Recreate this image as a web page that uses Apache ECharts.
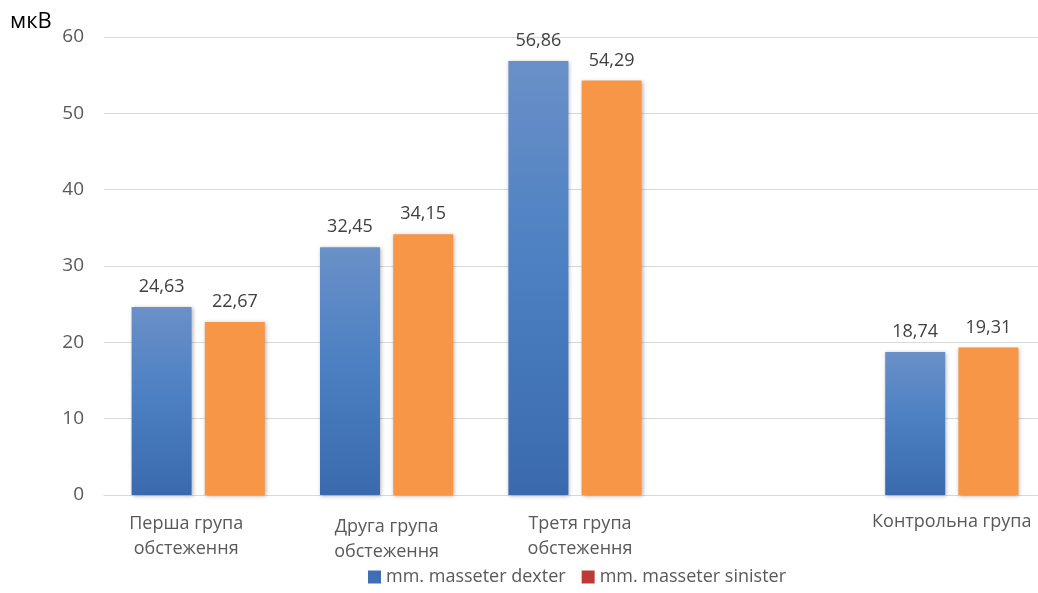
<!DOCTYPE html>
<html><head><meta charset="utf-8">
<script src="https://cdn.jsdelivr.net/npm/echarts@6/dist/echarts.min.js"></script>
<style>html,body{margin:0;padding:0;background:#fff}#c{width:1038px;height:593px}</style>
</head><body><div id="c"></div>
<script>
const categories = ['Перша група\nобстеження', 'Друга група\nобстеження', 'Третя група\nобстеження', '', 'Контрольна група'];
const dexter = [24.63, 32.45, 56.86, '-', 18.74];
const sinister = [22.67, 34.15, 54.29, '-', 19.31];
const seriesNames = ['mm. masseter dexter', 'mm. masseter sinister'];
const yTicks = {min: 0, max: 60, interval: 10};
const unitLabel = 'мкВ';

const font = '"Open Sans", "Noto Sans", sans-serif';
const labelPads = [[2, 24, 0, 0], [5, 0, 0, 0], [2, 0, 0, 10], [0, 0, 0, 0], [0, 0, 0, 0]];
const chart = echarts.init(document.getElementById('c'));
const fmt = p => String(p.value).replace('.', ',');
const orange = '#f79646';
const blueGrad = new echarts.graphic.LinearGradient(0, 0, 0, 1, [
  {offset: 0, color: '#6a90c8'}, {offset: 0.5, color: '#4a7fc2'}, {offset: 1, color: '#3a6aad'}
], false);
chart.setOption({
  animation: false,
  textStyle: {fontFamily: font},
  grid: {left: 104, top: 37, bottom: 98, width: 942, outerBoundsMode: 'none', containLabel: false},
  legend: {
    bottom: 2, left: 363, itemWidth: 13, itemHeight: 13, itemGap: 16,
    textStyle: {fontSize: 18, color: '#595959', fontFamily: font},
    data: [
      {name: seriesNames[0], icon: 'rect'},
      {name: seriesNames[1], icon: 'rect'}
    ]
  },
  xAxis: {
    type: 'category',
    data: categories.map((c, i) => ({value: c, textStyle: {padding: labelPads[i]}})),
    axisLine: {lineStyle: {color: '#d9d9d9', width: 1}},
    axisTick: {show: false},
    axisLabel: {fontSize: 18, color: '#595959', margin: 14, lineHeight: 25, interval: 0}
  },
  yAxis: {
    type: 'value', min: yTicks.min, max: yTicks.max, interval: yTicks.interval,
    name: unitLabel, nameLocation: 'end', nameGap: 0,
    nameTextStyle: {fontSize: 22, color: '#000', align: 'left', padding: [0, 0, 4, -94]},
    axisLine: {show: false}, axisTick: {show: false},
    axisLabel: {fontSize: 19, color: '#595959', margin: 20},
    splitLine: {lineStyle: {color: '#d9d9d9'}}
  },
  series: [
    {
      name: seriesNames[0], type: 'bar', barWidth: 60, barGap: '22%',
      data: dexter.map(v => ({value: v, itemStyle: {color: blueGrad}})),
      itemStyle: {
        color: '#3e6fb5',
        shadowBlur: 4, shadowColor: 'rgba(0,0,0,0.3)', shadowOffsetX: 1, shadowOffsetY: 1
      },
      label: {show: true, position: 'top', distance: 11, fontSize: 18, color: '#404040', formatter: fmt}
    },
    {
      name: seriesNames[1], type: 'bar', barWidth: 60,
      data: sinister.map(v => ({value: v, itemStyle: {color: orange}})),
      itemStyle: {
        color: '#be3b35',
        shadowBlur: 4, shadowColor: 'rgba(0,0,0,0.3)', shadowOffsetX: 1, shadowOffsetY: 1
      },
      label: {show: true, position: 'top', distance: 11, fontSize: 18, color: '#404040', formatter: fmt}
    }
  ]
});
</script></body></html>
